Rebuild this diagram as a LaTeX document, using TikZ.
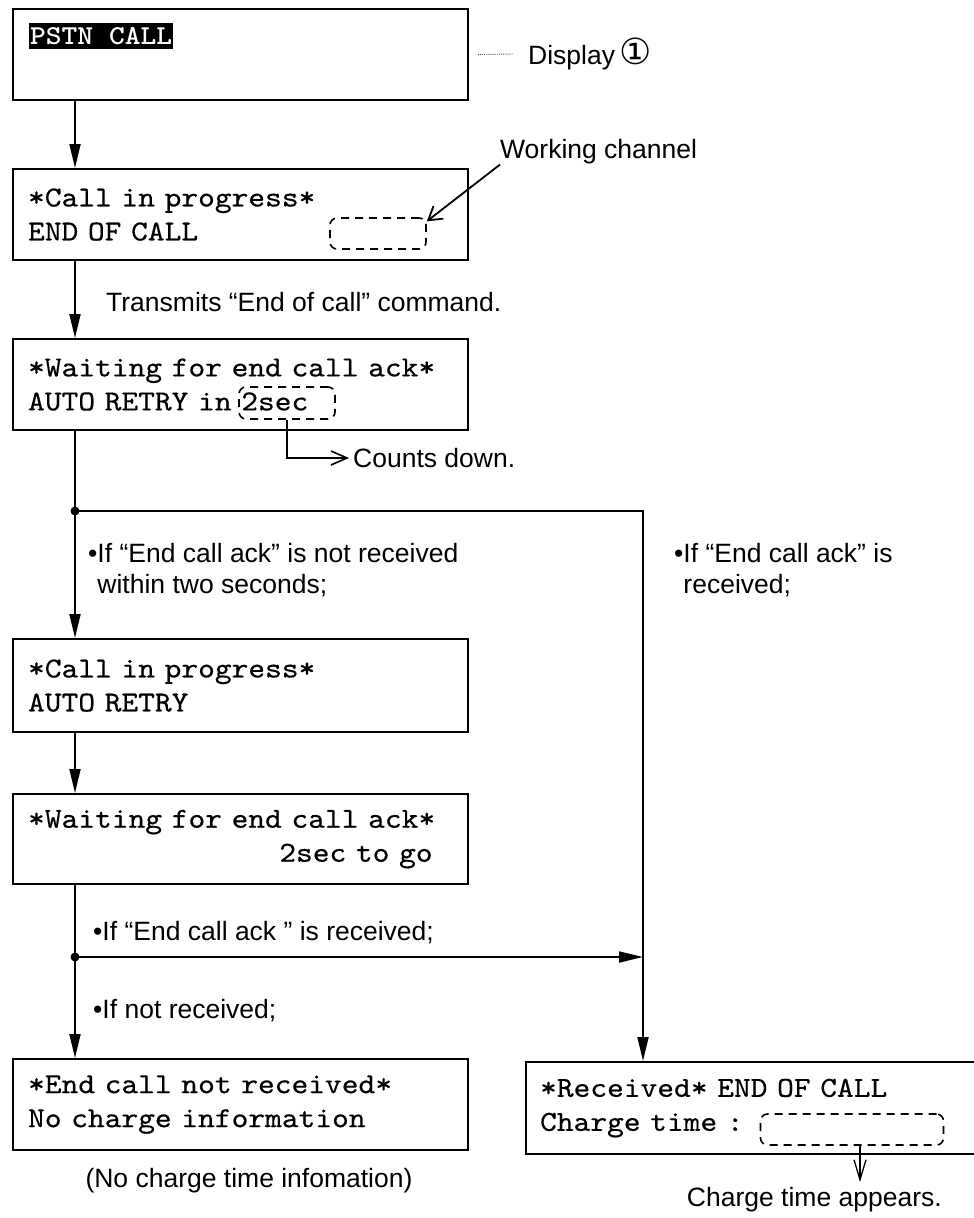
\documentclass[tikz,border=0pt]{standalone}
\usepackage{fontspec}
\usetikzlibrary{arrows.meta}
\newfontfamily\lab{Liberation Sans}
\newfontfamily\symf{DejaVu Sans}
\font\monofont="[lmmono10-regular.otf]:extend=1.1;embolden=0.4" at 29pt
\font\monobfont="[lmmonolt10-bold.otf]:extend=1.1" at 27.3pt
\protected\def\boxfont{\monofont\baselineskip=34pt\relax}
\protected\def\pstnfont{\monobfont}
\begin{document}
\begin{tikzpicture}[x=1pt,y=-1pt,
  box/.style={draw, line width=2.2pt, anchor=north west, align=left,
    inner xsep=15pt, inner ysep=0pt, minimum height=91pt, font=\boxfont},
  lbox/.style={box, minimum width=455pt, text width=425pt},
  dbox/.style={draw, line width=1.6pt, dash pattern=on 8pt off 6pt,
    rounded corners=7pt, inner sep=0pt},
  lbl/.style={inner sep=0pt, align=left, font=\lab\fontsize{26.5}{31}\selectfont},
  arr/.style={line width=1.8pt, -{Triangle[length=24pt,width=11pt]}},
  barb/.style={line width=1.6pt, -{Straight Barb[length=16pt,width=14pt]}},
  dot/.style={circle, fill, inner sep=0pt, minimum size=9pt},
  dotline/.style={line width=0.9pt, densely dotted, black!70}
]
\clip (0,0) rectangle (974,1218);

% boxes
\node[lbox] (b1) at (12,8) {};
\node[fill=black, text=white, anchor=north west, inner xsep=1pt, inner ysep=2pt,
  text height=19pt, text depth=3pt, font=\pstnfont] (pstn) at (29,23) {PSTN CALL};
\node[lbox] (b2) at (12,168) {*Call in progress*\\END OF CALL};
\node[lbox] (b3) at (12,338) {*Waiting for end call ack*\\AUTO RETRY in 2sec};
\node[lbox, minimum height=93pt] (b4) at (12,638) {*Call in progress*\\AUTO RETRY};
\node[lbox, minimum height=90pt] (b5) at (12,793) {*Waiting for end call ack*\\\hphantom{000000000000000}2sec to go};
\node[lbox] (b6) at (12,1058) {*End call not received*\\No charge information};
\node[box, minimum width=470pt, text width=442pt, inner xsep=14pt, minimum height=92pt] (b7) at (525,1061)
  {*Received* END OF CALL\\Charge time :};

% dashed markers
\node[dbox, minimum width=96pt, minimum height=31pt] (ch) at (378,233.5) {};
\node[dbox, minimum width=96pt, minimum height=32pt] (sec) at (287,403) {};
\node[dbox, minimum width=183pt, minimum height=31pt] (ctm) at (852,1129.5) {};

% labels
\node[lbl, anchor=west] (disp) at (528,54) {Display\,{\symf\fontsize{36}{36}\selectfont ①}};
\node[lbl, anchor=west] (wc) at (500,152) {Working channel};
\node[lbl, anchor=west] (tx) at (106,302) {Transmits “End of call” command.};
\node[lbl, anchor=west, inner xsep=4pt] (cd) at (349,458) {Counts down.};
\node[lbl, anchor=west] (nr) at (88,570.5) {•If “End call ack” is not received\\\hphantom{•}within two seconds;};
\node[lbl, anchor=west] (rc) at (674,570) {•If “End call ack” is\\\hphantom{•}received;};
\node[lbl, anchor=west] (rc2) at (93,933) {•If “End call ack ” is received;};
\node[lbl, anchor=west] (nr2) at (93,1011) {•If not received;};
\node[lbl] (noinfo) at (249,1181) {(No charge time infomation)};
\node[lbl, anchor=east] (ctapp) at (942,1200) {Charge time appears.};

% coordinates
\coordinate (cx) at (75,0);
\node[dot] (d1) at (75,511) {};
\coordinate (rx) at (643,511);
\node[dot] (d2) at (75,957) {};
\coordinate (cta) at (860,1182);

% connectors
\draw[dotline] ([xshift=9pt]b1.east) -- ([xshift=-15pt]disp.west);
\draw[arr] (b1.south -| cx) -- (b2.north -| cx);
\draw[arr] (b2.south -| cx) -- (b3.north -| cx);
\draw[line width=1.8pt] (b3.south -| cx) -- (d1.center);
\draw[arr] (d1.center) -- (b4.north -| cx);
\draw[arr] (d1.center) -- (rx) -- (b7.north -| rx);
\draw[arr] (b4.south -| cx) -- (b5.north -| cx);
\draw[line width=1.8pt] (b5.south -| cx) -- (d2.center);
\draw[arr] (d2.center) -- (b6.north -| cx);
\draw[arr] (d2.center) -- (d2 -| rx);
\draw[line width=1.8pt, -{Straight Barb[length=13pt,width=16pt]}] (wc.south west) -- (ch.14);
\draw[barb] (sec.south) -- (sec.south |- cd.west) -- (cd.west);
\draw[line width=1.3pt, -{Straight Barb[length=20pt,width=12pt]}] (ctm.south -| cta) -- (cta);
\end{tikzpicture}
\end{document}
